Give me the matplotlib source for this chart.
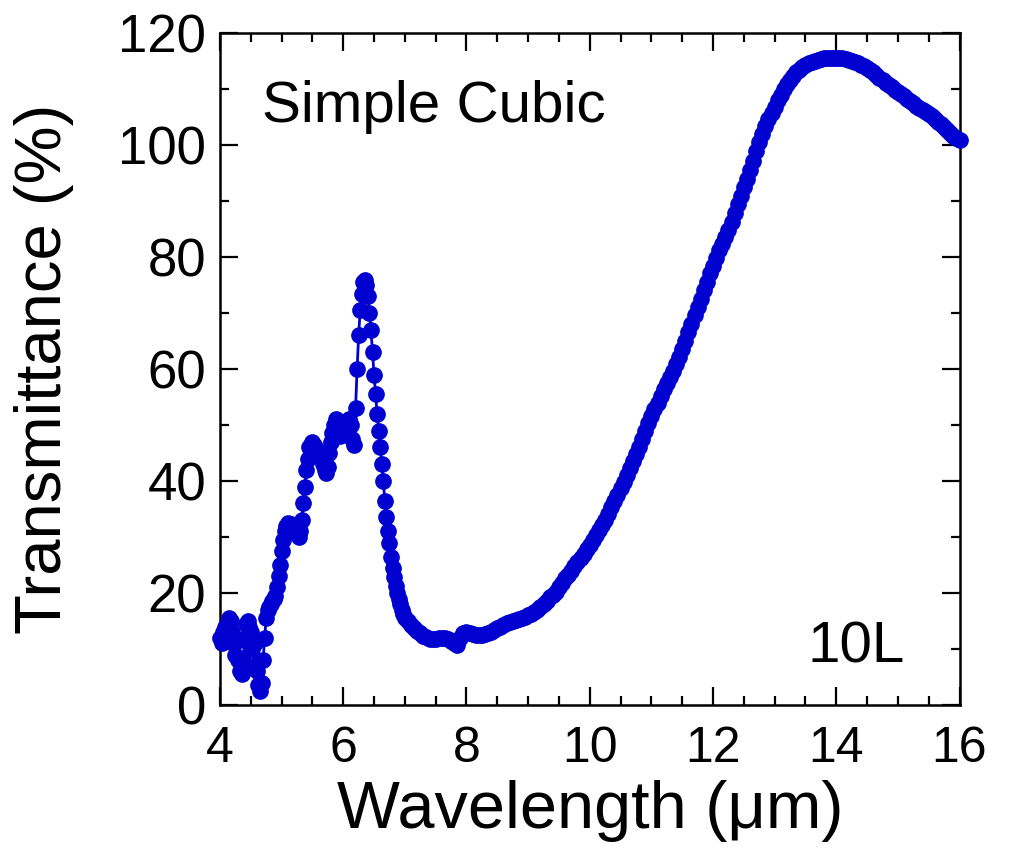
import matplotlib
matplotlib.use("Agg")
import matplotlib.pyplot as plt
from matplotlib.ticker import MultipleLocator

plt.rcParams['font.family'] = ['Liberation Sans', 'DejaVu Sans']

# wavelength (um) and transmittance (%)
wl_a = [4.000, 4.025, 4.050, 4.075, 4.100, 4.125, 4.150, 4.175, 4.200, 4.225,
        4.250, 4.275, 4.300, 4.325, 4.350, 4.375, 4.400, 4.425, 4.450, 4.475,
        4.500, 4.525, 4.550, 4.575, 4.600, 4.625, 4.650, 4.675, 4.700, 4.725,
        4.750, 4.775, 4.800, 4.825, 4.850, 4.875, 4.900, 4.925, 4.950, 4.975,
        5.000, 5.025, 5.050, 5.075, 5.100, 5.125, 5.150, 5.175, 5.200, 5.225,
        5.250, 5.275, 5.300, 5.325, 5.350, 5.375, 5.400, 5.425, 5.450, 5.475,
        5.500, 5.525, 5.550, 5.575, 5.600, 5.625, 5.650, 5.675, 5.700, 5.725,
        5.750, 5.775, 5.800, 5.825, 5.850, 5.875, 5.900, 5.925, 5.950, 5.975,
        6.000, 6.025, 6.050, 6.075, 6.100, 6.125, 6.150, 6.175, 6.200, 6.225,
        6.250, 6.275, 6.300, 6.325, 6.350, 6.375, 6.400, 6.425, 6.450, 6.475,
        6.500, 6.525, 6.550, 6.575, 6.600, 6.625, 6.650, 6.675, 6.700, 6.725,
        6.750, 6.775, 6.800, 6.825, 6.850, 6.875, 6.900, 6.925, 6.950, 6.975,
        7.000]
tr_a = [12.0, 11.0, 13.0, 14.0, 13.5, 14.5, 15.5, 15.0, 13.0, 11.0,
        9.0, 11.5, 8.0, 6.0, 5.5, 8.0, 12.0, 14.5, 15.0, 14.0,
        13.0, 10.0, 7.0, 11.0, 6.0, 3.5, 2.5, 4.0, 8.0, 12.0,
        15.5, 17.0, 17.5, 18.0, 18.5, 19.0, 19.5, 21.0, 23.0, 25.0,
        27.5, 29.5, 31.0, 32.0, 32.5, 32.0, 32.3, 32.0, 31.5, 31.0,
        30.5, 30.0, 31.0, 33.0, 36.0, 39.0, 42.0, 44.0, 46.0, 46.5,
        47.0, 46.5, 46.0, 45.5, 45.0, 44.5, 44.0, 43.0, 42.0, 41.5,
        42.5, 45.0, 47.0, 48.5, 50.0, 51.0, 50.5, 49.0, 48.0, 50.0,
        50.5, 49.5, 48.5, 50.0, 51.0, 50.0, 47.5, 46.5, 53.0, 60.0,
        66.0, 70.5, 73.5, 75.5, 76.0, 75.0, 73.0, 70.0, 67.0, 63.0,
        59.0, 55.5, 52.0, 49.0, 46.0, 43.0, 40.0, 36.5, 33.5, 31.0,
        29.0, 26.5, 24.5, 22.8, 21.3, 20.0, 19.0, 18.0, 17.0, 16.2,
        15.6]

wl_b = [7.05, 7.10, 7.15, 7.20, 7.25, 7.30, 7.35, 7.40, 7.45, 7.50,
        7.55, 7.60, 7.65, 7.70, 7.75, 7.80, 7.85, 7.90, 7.95, 8.00,
        8.05, 8.10, 8.15, 8.20, 8.25, 8.30, 8.35, 8.40, 8.45, 8.50,
        8.55, 8.60, 8.65, 8.70, 8.75, 8.80, 8.85, 8.90, 8.95, 9.00,
        9.05, 9.10, 9.15, 9.20, 9.25, 9.30, 9.35, 9.40, 9.45, 9.50,
        9.55, 9.60, 9.65, 9.70, 9.75, 9.80, 9.85, 9.90, 9.95, 10.00]
tr_b = [15.0, 14.3, 13.7, 13.2, 12.8, 12.4, 12.1, 11.8, 11.7, 11.8,
        11.9, 12.0, 11.9, 11.8, 11.5, 11.0, 10.8, 12.0, 12.8, 13.0,
        12.9, 12.6, 12.5, 12.5, 12.5, 12.6, 12.8, 13.1, 13.4, 13.7,
        14.0, 14.3, 14.6, 14.8, 15.0, 15.2, 15.4, 15.6, 15.8, 16.0,
        16.3, 16.6, 17.0, 17.5, 18.0, 18.6, 19.2, 19.7, 20.2, 21.0,
        21.8, 22.6, 23.3, 24.0, 24.8, 25.5, 26.2, 27.0, 27.8, 28.6]

wl_c = [10.05, 10.10, 10.15, 10.20, 10.25, 10.30, 10.35, 10.40, 10.45, 10.50,
        10.55, 10.60, 10.65, 10.70, 10.75, 10.80, 10.85, 10.90, 10.95, 11.00,
        11.05, 11.10, 11.15, 11.20, 11.25, 11.30, 11.35, 11.40, 11.45, 11.50,
        11.55, 11.60, 11.65, 11.70, 11.75, 11.80, 11.85, 11.90, 11.95, 12.00,
        12.05, 12.10, 12.15, 12.20, 12.25, 12.30, 12.35, 12.40, 12.45, 12.50,
        12.55, 12.60, 12.65, 12.70, 12.75, 12.80, 12.85, 12.90, 12.95, 13.00,
        13.05, 13.10, 13.15, 13.20, 13.25, 13.30, 13.35, 13.40, 13.45, 13.50,
        13.55, 13.60, 13.65, 13.70, 13.75, 13.80, 13.85, 13.90, 13.95, 14.00,
        14.05, 14.10, 14.15, 14.20, 14.25, 14.30, 14.35, 14.40, 14.45, 14.50,
        14.55, 14.60, 14.65, 14.70, 14.75, 14.80, 14.85, 14.90, 14.95, 15.00,
        15.05, 15.10, 15.15, 15.20, 15.25, 15.30, 15.35, 15.40, 15.45, 15.50,
        15.55, 15.60, 15.65, 15.70, 15.75, 15.80, 15.85, 15.90, 15.95, 16.00]
tr_c = [29.4, 30.3, 31.2, 32.1, 33.1, 34.2, 35.3, 36.4, 37.5, 38.7,
        39.9, 41.1, 42.3, 43.5, 44.8, 46.1, 47.5, 48.9, 50.3, 51.6,
        52.8, 54.0, 55.2, 56.4, 57.5, 58.6, 59.7, 60.9, 62.2, 63.6,
        65.1, 66.6, 68.1, 69.6, 71.1, 72.6, 74.1, 75.6, 77.1, 78.5,
        79.9, 81.2, 82.4, 83.6, 84.9, 86.3, 87.8, 89.4, 91.0, 92.5,
        94.0, 95.6, 97.2, 98.9, 100.5, 102.0, 103.4, 104.7, 105.8, 106.9,
        108.0, 109.0, 110.0, 110.9, 111.7, 112.4, 113.0, 113.5, 113.9, 114.3,
        114.6, 114.9, 115.1, 115.3, 115.4, 115.5, 115.6, 115.6, 115.6, 115.6,
        115.6, 115.5, 115.4, 115.2, 115.0, 114.8, 114.6, 114.4, 114.1, 113.8,
        113.4, 113.0, 112.5, 112.0, 111.6, 111.1, 110.7, 110.3, 109.9, 109.5,
        109.1, 108.7, 108.3, 107.9, 107.5, 107.0, 106.6, 106.3, 106.0, 105.6,
        105.2, 104.7, 104.2, 103.7, 103.2, 102.7, 102.2, 101.7, 101.3, 101.0]

wavelength = wl_a + wl_b + wl_c
transmittance = tr_a + tr_b + tr_c

fig = plt.figure(figsize=(10.09, 8.51), dpi=100)
ax = fig.add_axes([0.218, 0.1716, 0.733, 0.7894])

ax.plot(wavelength, transmittance, '-o', color='#0000d0', lw=2,
        ms=11, mec='#0000d0', mfc='#0000d0', clip_on=False, zorder=3)

ax.set_xlim(4, 16)
ax.set_ylim(0, 120)
ax.xaxis.set_major_locator(MultipleLocator(2))
ax.xaxis.set_minor_locator(MultipleLocator(0.5))
ax.yaxis.set_major_locator(MultipleLocator(20))
ax.yaxis.set_minor_locator(MultipleLocator(10))
ax.tick_params(which='both', direction='in', top=True, right=True,
               labelsize=36, width=1.6)
ax.tick_params(which='major', length=13, pad=10)
ax.tick_params(axis='x', which='major', pad=15)
ax.tick_params(axis='y', labelsize=38)
ax.tick_params(which='minor', length=6.5)
for s in ax.spines.values():
    s.set_linewidth(1.8)

ax.set_xlabel('Wavelength (\u03bcm)', fontsize=48, labelpad=6)
ax.set_ylabel('Transmittance (%)', fontsize=47, labelpad=32)

ax.text(0.057, 0.868, 'Simple Cubic', transform=ax.transAxes,
        fontsize=42, ha='left', va='baseline')
ax.text(0.926, 0.0625, '10L', transform=ax.transAxes,
        fontsize=42, ha='right', va='baseline')

fig.savefig('out.png', dpi=100)
